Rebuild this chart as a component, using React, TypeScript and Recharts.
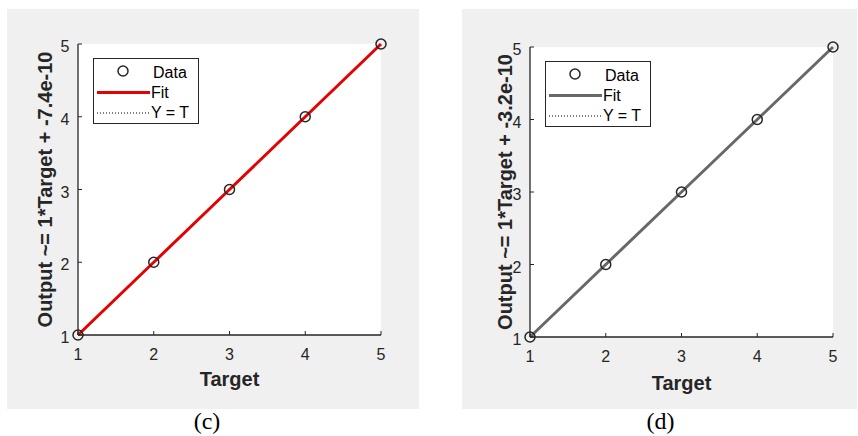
import React from 'react';
import { ComposedChart, Line, XAxis, YAxis, CartesianGrid, Legend } from 'recharts';

const targets = [1, 2, 3, 4, 5];
const testOutputs = [1, 2, 3, 4, 5];
const testFit = [1, 2, 3, 4, 5];
const allOutputs = [1, 2, 3, 4, 5];
const allFit = [1, 2, 3, 4, 5];
const identityLine = [1, 2, 3, 4, 5];
const axisTicks = [1, 2, 3, 4, 5];
const legendLabels = ['Data', 'Fit', 'Y = T'];
const panelTitles = ['Test: R=1', 'All: R=1'];
const yLabels = ['Output ~= 1*Target + -7.4e-10', 'Output ~= 1*Target + -3.2e-10'];
const xLabel = 'Target';
const captions = ['(c)', '(d)'];

const FONT = 'Liberation Sans, Arial, sans-serif';
const AX = '#262626';
const X_MARGIN = 10;
const Y_MARGIN = 10;

const XTick = (props: any) => {
  const { x, y, payload } = props;
  const axisY = y - X_MARGIN;
  return (
    <g>
      <line x1={x} x2={x} y1={axisY} y2={axisY - 4} stroke={AX} strokeWidth={1} />
      <text x={x} y={axisY + 25} textAnchor="middle" fontSize={16} fill={AX} fontFamily={FONT}>
        {payload.value}
      </text>
    </g>
  );
};

const YTick = (props: any) => {
  const { x, y, payload } = props;
  const axisX = x + Y_MARGIN;
  return (
    <g>
      <line x1={axisX} x2={axisX + 4} y1={y} y2={y} stroke={AX} strokeWidth={1} />
      <text x={axisX - 8.5} y={y + 8} textAnchor="end" fontSize={16} fill={AX} fontFamily={FONT}>
        {payload.value}
      </text>
    </g>
  );
};

const makeLegend = (fitColor: string) => () => (
  <div
    style={{
      width: 106,
      height: 66,
      boxSizing: 'border-box',
      border: `1px solid ${AX}`,
      background: '#ffffff',
    }}
  >
    <svg width={104} height={64} style={{ display: 'block' }}>
      <circle cx={29} cy={12} r={5} fill="none" stroke={AX} strokeWidth={1.5} />
      <line x1={3} x2={56} y1={33.5} y2={33.5} stroke={fitColor} strokeWidth={3} />
      <line x1={3} x2={56} y1={54} y2={54} stroke="#000" strokeWidth={1} strokeDasharray="1 2" />
      <text x={59} y={19.3} fontSize={16} fill="#000" fontFamily={FONT}>{legendLabels[0]}</text>
      <text x={57} y={39.3} fontSize={16} fill="#000" fontFamily={FONT}>{legendLabels[1]}</text>
      <text x={57} y={59.3} fontSize={16} fill="#000" fontFamily={FONT}>{legendLabels[2]}</text>
    </svg>
  </div>
);

type PanelProps = {
  left: number;
  top: number;
  width: number;
  height: number;
  margin: { top: number; right: number; bottom: number; left: number };
  title: string;
  yLabel: string;
  outputs: number[];
  fit: number[];
  fitColor: string;
  legendPos: { left: number; top: number };
  titleGap: number;
  yLabelGap: number;
  xLabelGap: number;
};

const Panel = (p: PanelProps) => {
  const data = targets.map((t, i) => ({
    target: t,
    output: p.outputs[i],
    fit: p.fit[i],
    yt: identityLine[i],
  }));
  const Y_AXIS_W = 50;
  return (
    <div style={{ position: 'absolute', left: p.left, top: p.top }}>
      <ComposedChart
        width={p.width}
        height={p.height}
        data={data}
        margin={p.margin}
        style={{ background: '#f0f0f0' }}
      >
        <CartesianGrid fill="#ffffff" horizontal={false} vertical={false} stroke="none" />
        <XAxis
          dataKey="target"
          type="number"
          domain={[1, 5]}
          ticks={axisTicks}
          tickSize={0}
          tickMargin={X_MARGIN}
          tickLine={false}
          tick={<XTick />}
          height={60}
          stroke={AX}
          strokeWidth={1.3}
          label={{
            content: (lp: any) => {
              const vb = lp.viewBox;
              return (
                <text
                  x={vb.x + vb.width / 2}
                  y={vb.y + p.xLabelGap}
                  textAnchor="middle"
                  fontSize={20}
                  fontWeight="bold"
                  fill={AX}
                  fontFamily={FONT}
                >
                  {xLabel}
                </text>
              );
            },
          }}
        />
        <XAxis
          xAxisId="top"
          orientation="top"
          type="number"
          domain={[1, 5]}
          ticks={axisTicks}
          mirror
          height={0}
          tick={false}
          tickSize={4}
          stroke={AX}
          strokeWidth={1.3}
          label={{
            content: (lp: any) => {
              const vb = lp.viewBox;
              return (
                <text
                  x={vb.x + vb.width / 2}
                  y={vb.y - p.titleGap}
                  textAnchor="middle"
                  fontSize={20}
                  fontWeight="bold"
                  fill="#000"
                  fontFamily={FONT}
                >
                  {p.title}
                </text>
              );
            },
          }}
        />
        <YAxis
          type="number"
          domain={[1, 5]}
          ticks={axisTicks}
          tickSize={0}
          tickMargin={Y_MARGIN}
          tickLine={false}
          tick={<YTick />}
          width={Y_AXIS_W}
          stroke={AX}
          strokeWidth={1.3}
          label={{
            content: (lp: any) => {
              const vb = lp.viewBox;
              const cx = vb.x + vb.width - p.yLabelGap;
              const cy = vb.y + vb.height / 2;
              return (
                <text
                  x={cx}
                  y={cy}
                  transform={`rotate(-90 ${cx} ${cy})`}
                  textAnchor="middle"
                  fontSize={20}
                  fontWeight="bold"
                  fill={AX}
                  fontFamily={FONT}
                >
                  {p.yLabel}
                </text>
              );
            },
          }}
        />
        <YAxis
          yAxisId="right"
          orientation="right"
          type="number"
          domain={[1, 5]}
          ticks={axisTicks}
          mirror
          width={0}
          tick={false}
          tickSize={4}
          stroke={AX}
          strokeWidth={1.3}
        />
        <Line
          dataKey="output"
          stroke="none"
          isAnimationActive={false}
          dot={{ r: 5, fill: 'none', stroke: AX, strokeWidth: 1.5 }}
          activeDot={false}
        />
        <Line
          dataKey="yt"
          stroke="#000"
          strokeWidth={1}
          strokeDasharray="1 2"
          dot={false}
          isAnimationActive={false}
        />
        <Line
          dataKey="fit"
          stroke={p.fitColor}
          strokeWidth={3}
          dot={false}
          isAnimationActive={false}
        />
        <Legend
          layout="vertical"
          align="center"
          verticalAlign="middle"
          content={makeLegend(p.fitColor)}
          wrapperStyle={{ left: p.legendPos.left, top: p.legendPos.top, width: 106, height: 66 }}
        />
      </ComposedChart>
    </div>
  );
};

export default function App() {
  return (
    <div style={{ position: 'absolute', left: 0, top: 0, width: 858, height: 436, background: '#ffffff' }}>
      <Panel
        left={7}
        top={9}
        width={412}
        height={400}
        margin={{ top: 35, right: 38, bottom: 14, left: 21 }}
        title={panelTitles[0]}
        yLabel={yLabels[0]}
        outputs={testOutputs}
        fit={testFit}
        fitColor="#e60000"
        legendPos={{ left: 86, top: 49 }}
        titleGap={7.3}
        yLabelGap={26.3}
        xLabelGap={51}
      />
      <Panel
        left={462}
        top={9}
        width={395}
        height={400}
        margin={{ top: 38, right: 24, bottom: 12, left: 18 }}
        title={panelTitles[1]}
        yLabel={yLabels[1]}
        outputs={allOutputs}
        fit={allFit}
        fitColor="#686868"
        legendPos={{ left: 83, top: 52 }}
        titleGap={9}
        yLabelGap={18.3}
        xLabelGap={53}
      />
      <svg
        width={858}
        height={436}
        style={{ position: 'absolute', left: 0, top: 0, pointerEvents: 'none' }}
      >
        <text x={207} y={429} textAnchor="middle" fontSize={24} fill="#000" fontFamily="Liberation Serif, Times New Roman, serif">
          {captions[0]}
        </text>
        <text x={660.5} y={429} textAnchor="middle" fontSize={24} fill="#000" fontFamily="Liberation Serif, Times New Roman, serif">
          {captions[1]}
        </text>
      </svg>
    </div>
  );
}
